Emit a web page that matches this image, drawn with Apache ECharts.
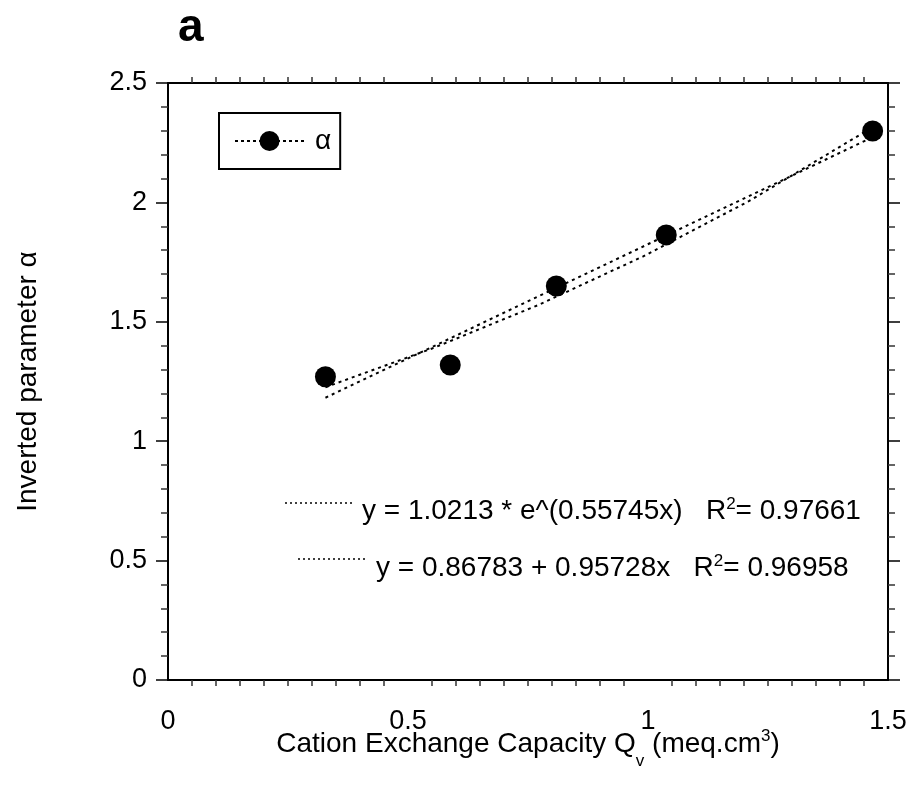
<!DOCTYPE html>
<html>
<head>
<meta charset="utf-8">
<script src="https://cdn.jsdelivr.net/npm/echarts@6/dist/echarts.min.js"></script>
<style>html,body{margin:0;padding:0;background:#fff;}#c{width:912px;height:791px;}</style>
</head>
<body>
<div id="c"></div>
<script>
// Data
const qv = [0.328, 0.588, 0.809, 1.038, 1.468];
const alpha = [1.270, 1.319, 1.650, 1.864, 2.299];
// Fit curves (as drawn)
const expFitX = [0.328, 0.55, 0.77, 0.99, 1.21, 1.468];
const expFitY = [1.226, 1.388, 1.569, 1.774, 2.005, 2.315];
const linFitX = [0.328, 1.468];
const linFitY = [1.182, 2.273];
const xTicks = [0, 0.5, 1, 1.5];
const yTicks = [0, 0.5, 1, 1.5, 2, 2.5];
const eqExp = 'y = 1.0213 * e^(0.55745x)   R{sup|2}= 0.97661';
const eqLin = 'y = 0.86783 + 0.95728x   R{sup|2}= 0.96958';

const FONT = '"Liberation Sans", Arial, sans-serif';
const zip = (xs, ys) => xs.map((x, i) => [x, ys[i]]);

const chart = echarts.init(document.getElementById('c'));
const axisLine = {show: true, onZero: false, lineStyle: {color: '#000', width: 2}};
const minorLine = {color: '#333', width: 1.5};
const commonX = {
  type: 'value', min: xTicks[0], max: xTicks[xTicks.length - 1], interval: 0.5,
  axisLine: axisLine, axisTick: {show: false},
  minorTick: {show: true, splitNumber: 10, length: 6, lineStyle: minorLine},
  splitLine: {show: false}, minorSplitLine: {show: false}
};
const commonY = {
  type: 'value', min: yTicks[0], max: yTicks[yTicks.length - 1], interval: 0.5,
  axisLine: axisLine, axisTick: {show: true, length: 12, lineStyle: {color: '#000', width: 1.5}},
  minorTick: {show: true, splitNumber: 5, length: 7, lineStyle: minorLine},
  splitLine: {show: false}, minorSplitLine: {show: false}
};
const rich = {
  sup: {fontSize: 17, fontFamily: FONT, color: '#000', verticalAlign: 'top', lineHeight: 20}
};

chart.setOption({
  animation: false,
  backgroundColor: '#fff',
  grid: {left: 168, right: 24, top: 83, bottom: 111, containLabel: false, outerBoundsMode: 'none'},
  xAxis: [
    Object.assign({}, commonX, {
      position: 'bottom',
      axisLabel: {fontSize: 27, fontFamily: FONT, color: '#000', margin: 28},
      name: 'Cation Exchange Capacity Q{sub|v}{gap|\u00a0}(meq.cm{sup|3})',
      nameLocation: 'middle', nameGap: 41, nameMoveOverlap: false,
      nameTextStyle: {
        fontSize: 28, fontFamily: FONT, color: '#000', lineHeight: 46,
        rich: {
          sub: {fontSize: 17, fontFamily: FONT, color: '#000', lineHeight: 17, padding: [34, 0, 0, 0]},
          gap: {fontSize: 28, fontFamily: FONT, color: '#000', lineHeight: 28},
          sup: {fontSize: 17, fontFamily: FONT, color: '#000', lineHeight: 17, padding: [0, 0, 15, 0]}
        }
      }
    }),
    Object.assign({}, commonX, {position: 'top', axisLabel: {show: false}})
  ],
  yAxis: [
    Object.assign({}, commonY, {
      position: 'left',
      axisLabel: {fontSize: 27, fontFamily: FONT, color: '#000', margin: 21},
      name: 'Inverted parameter α', nameLocation: 'middle', nameGap: 126, nameMoveOverlap: false,
      nameTextStyle: {fontSize: 28, fontFamily: FONT, color: '#000'}
    }),
    Object.assign({}, commonY, {position: 'right', axisLabel: {show: false}})
  ],
  legend: {
    data: ['α'], left: 219, top: 113, orient: 'horizontal',
    itemWidth: 69, itemHeight: 25, itemGap: 0,
    padding: [14, 9, 14, 15],
    borderColor: '#000', borderWidth: 2,
    textStyle: {fontSize: 28, fontFamily: FONT, color: '#000', padding: [0, 0, 0, 6], lineHeight: 26},
    lineStyle: {color: '#000', width: 2, type: [3, 3], opacity: 1},
    itemStyle: {color: '#000'}
  },
  series: [
    {
      name: 'exp fit', type: 'line', data: zip(expFitX, expFitY), symbol: 'none', smooth: false,
      lineStyle: {color: '#000', width: 2, type: [3, 4]}, z: 2, silent: true
    },
    {
      name: 'linear fit', type: 'line', data: zip(linFitX, linFitY), symbol: 'none',
      lineStyle: {color: '#000', width: 2, type: [3, 4]}, z: 2, silent: true
    },
    {
      name: 'α', type: 'line', data: zip(qv, alpha), symbol: 'circle', symbolSize: 21,
      itemStyle: {color: '#000'}, lineStyle: {color: '#000', opacity: 0}, z: 3
    }
  ],
  graphic: [
    {type: 'text', left: 178, top: 5, style: {text: 'a', font: 'bold 46px ' + FONT, fill: '#000'}},
    {type: 'line', shape: {x1: 285, y1: 503, x2: 355, y2: 503}, style: {stroke: '#000', lineWidth: 1.5, lineDash: [2, 3]}},
    {type: 'text', style: {x: 362, y: 511, text: eqExp, font: '28px ' + FONT, fill: '#000', verticalAlign: 'middle', lineHeight: 30, rich: rich}},
    {type: 'line', shape: {x1: 298, y1: 559, x2: 365, y2: 559}, style: {stroke: '#000', lineWidth: 1.5, lineDash: [2, 3]}},
    {type: 'text', style: {x: 376, y: 568, text: eqLin, font: '28px ' + FONT, fill: '#000', verticalAlign: 'middle', lineHeight: 30, rich: rich}}
  ]
});
</script>
</body>
</html>
